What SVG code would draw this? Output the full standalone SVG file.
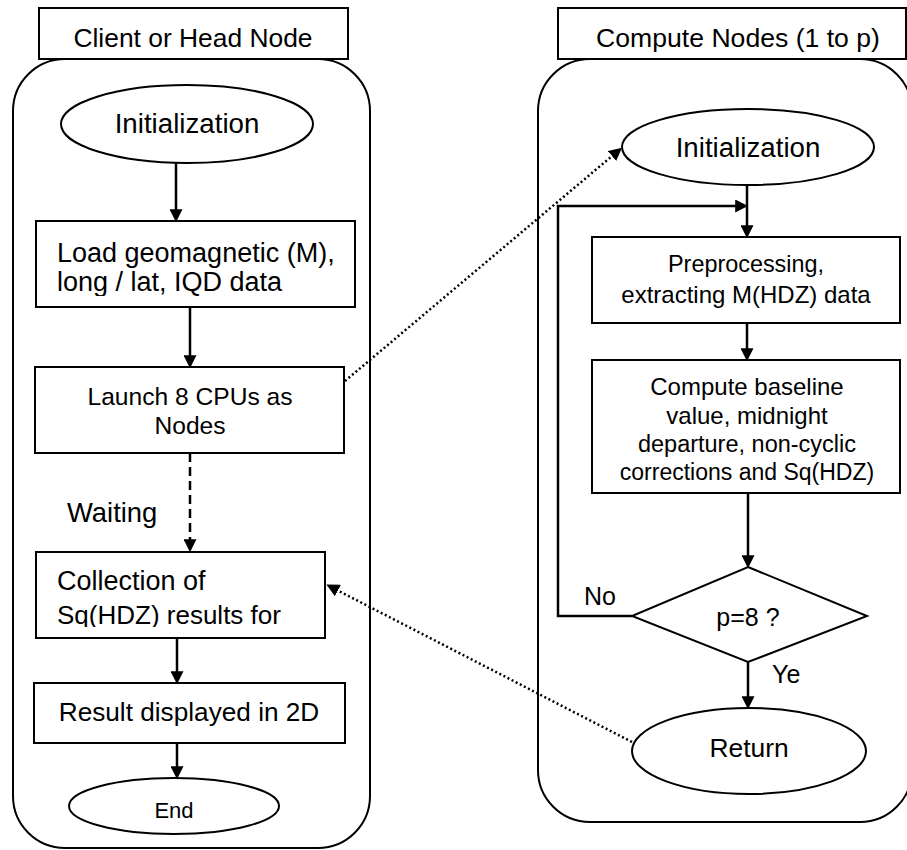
<svg xmlns="http://www.w3.org/2000/svg" width="907" height="850" viewBox="0 0 907 850">
<style>
  .box{fill:#fff;stroke:#000;stroke-width:2}
  .lane{fill:none;stroke:#000;stroke-width:2}
  .t{font-family:"Liberation Sans",Arial,sans-serif;font-size:25px;fill:#000}
  .ts{font-family:"Liberation Sans",Arial,sans-serif;font-size:23.5px;fill:#000}
  .c{text-anchor:middle}
  .ar{fill:none;stroke:#000;stroke-width:2.5}
  .dot{fill:none;stroke:#000;stroke-width:2.5;stroke-dasharray:2 2.6}
  .dash{fill:none;stroke:#000;stroke-width:2.5;stroke-dasharray:9 5}
</style>
<defs>
  <marker id="ah" viewBox="0 0 10 10" refX="6" refY="5" markerWidth="13" markerHeight="13" markerUnits="userSpaceOnUse" orient="auto">
    <path d="M0,0 L10,5 L0,10 z" fill="#000"/>
  </marker>
  <clipPath id="clipLoad"><rect x="36" y="221" width="319" height="75"/></clipPath>
  <clipPath id="clipColl"><rect x="36" y="552" width="289" height="75"/></clipPath>
</defs>

<g id="lane-left">
  <rect class="lane" x="13" y="59" width="357" height="789" rx="52" ry="52"/>
  <rect class="box" x="39" y="8" width="309" height="51"/>
  <text class="t c" x="193" y="47" style="font-size:26.4px">Client or Head Node</text>
</g>
<g id="lane-right">
  <rect class="lane" x="538" y="59" width="374" height="763" rx="52" ry="52"/>
  <rect class="box" x="558" y="8" width="348" height="51"/>
  <text class="t c" x="738" y="47" style="font-size:26.6px">Compute Nodes (1 to p)</text>
</g>

<g id="connectors">
  <line class="ar" x1="176" y1="163" x2="176" y2="217" marker-end="url(#ah)"/>
  <line class="ar" x1="190" y1="307" x2="190" y2="363" marker-end="url(#ah)"/>
  <line class="dash" x1="190" y1="453" x2="190" y2="547" marker-end="url(#ah)"/>
  <line class="ar" x1="177" y1="638" x2="177" y2="679" marker-end="url(#ah)"/>
  <line class="ar" x1="177" y1="743" x2="177" y2="774" marker-end="url(#ah)"/>
  <line class="ar" x1="747" y1="185" x2="747" y2="233" marker-end="url(#ah)"/>
  <polyline class="ar" points="632,616 558,616 558,206 743,206" marker-end="url(#ah)"/>
  <line class="ar" x1="747" y1="323" x2="747" y2="356" marker-end="url(#ah)"/>
  <line class="ar" x1="748" y1="493" x2="748" y2="563" marker-end="url(#ah)"/>
  <line class="ar" x1="748" y1="662" x2="748" y2="704" marker-end="url(#ah)"/>
  <line class="dot" x1="345" y1="381" x2="618" y2="151" marker-end="url(#ah)"/>
  <line class="dot" x1="632" y1="742" x2="331" y2="587" marker-end="url(#ah)"/>
</g>

<g id="n-init-left">
  <ellipse class="box" cx="187" cy="124" rx="126" ry="39"/>
  <text class="t c" x="187" y="133" style="font-size:27.7px">Initialization</text>
</g>
<g id="n-load">
  <rect class="box" x="36" y="221" width="319" height="86"/>
  <g clip-path="url(#clipLoad)">
    <text class="t" x="57" y="262" style="font-size:27px">Load geomagnetic (M),</text>
    <text class="t" x="57" y="291" style="font-size:27px">long / lat, IQD data</text>
  </g>
</g>
<g id="n-launch">
  <rect class="box" x="35" y="367" width="309" height="86"/>
  <text class="t c" x="190" y="405" style="font-size:24.6px">Launch 8 CPUs as</text>
  <text class="t c" x="190" y="434" style="font-size:24.6px">Nodes</text>
</g>
<text class="t" x="67" y="522" style="font-size:27.4px">Waiting</text>
<g id="n-collect">
  <rect class="box" x="36" y="552" width="289" height="86"/>
  <g clip-path="url(#clipColl)">
    <text class="t" x="57" y="590" style="font-size:27px">Collection of</text>
    <text class="t" x="57" y="624" style="font-size:26px">Sq(HDZ) results for</text>
  </g>
</g>
<g id="n-result">
  <rect class="box" x="34" y="683" width="311" height="60"/>
  <text class="t c" x="189" y="721" style="font-size:26.2px">Result displayed in 2D</text>
</g>
<g id="n-end">
  <ellipse class="box" cx="174" cy="806" rx="105" ry="28"/>
  <text class="t c" x="174" y="818" style="font-size:22px">End</text>
</g>

<g id="n-init-right">
  <ellipse class="box" cx="748" cy="147" rx="126" ry="38"/>
  <text class="t c" x="748" y="157" style="font-size:27.7px">Initialization</text>
</g>
<g id="n-preproc">
  <rect class="box" x="592" y="237" width="308" height="86"/>
  <text class="ts c" x="746" y="272" style="font-size:23.4px">Preprocessing,</text>
  <text class="ts c" x="746" y="303" style="font-size:24px">extracting M(HDZ) data</text>
</g>
<g id="n-compute">
  <rect class="box" x="592" y="360" width="308" height="133"/>
  <text class="ts c" x="747" y="395" style="font-size:24px">Compute baseline</text>
  <text class="ts c" x="747" y="424" style="font-size:24px">value, midnight</text>
  <text class="ts c" x="747" y="452">departure, non-cyclic</text>
  <text class="ts c" x="747" y="480" style="font-size:23px">corrections and Sq(HDZ)</text>
</g>
<g id="n-decision">
  <polygon class="box" points="748,567 867,616 748,662 632,616"/>
  <text class="t c" x="748" y="626">p=8 ?</text>
</g>
<text class="t" x="584" y="605">No</text>
<text class="t" x="772" y="683">Ye</text>
<g id="n-return">
  <ellipse class="box" cx="749" cy="751" rx="117" ry="43"/>
  <text class="t c" x="749" y="757" style="font-size:26.4px">Return</text>
</g>
</svg>
